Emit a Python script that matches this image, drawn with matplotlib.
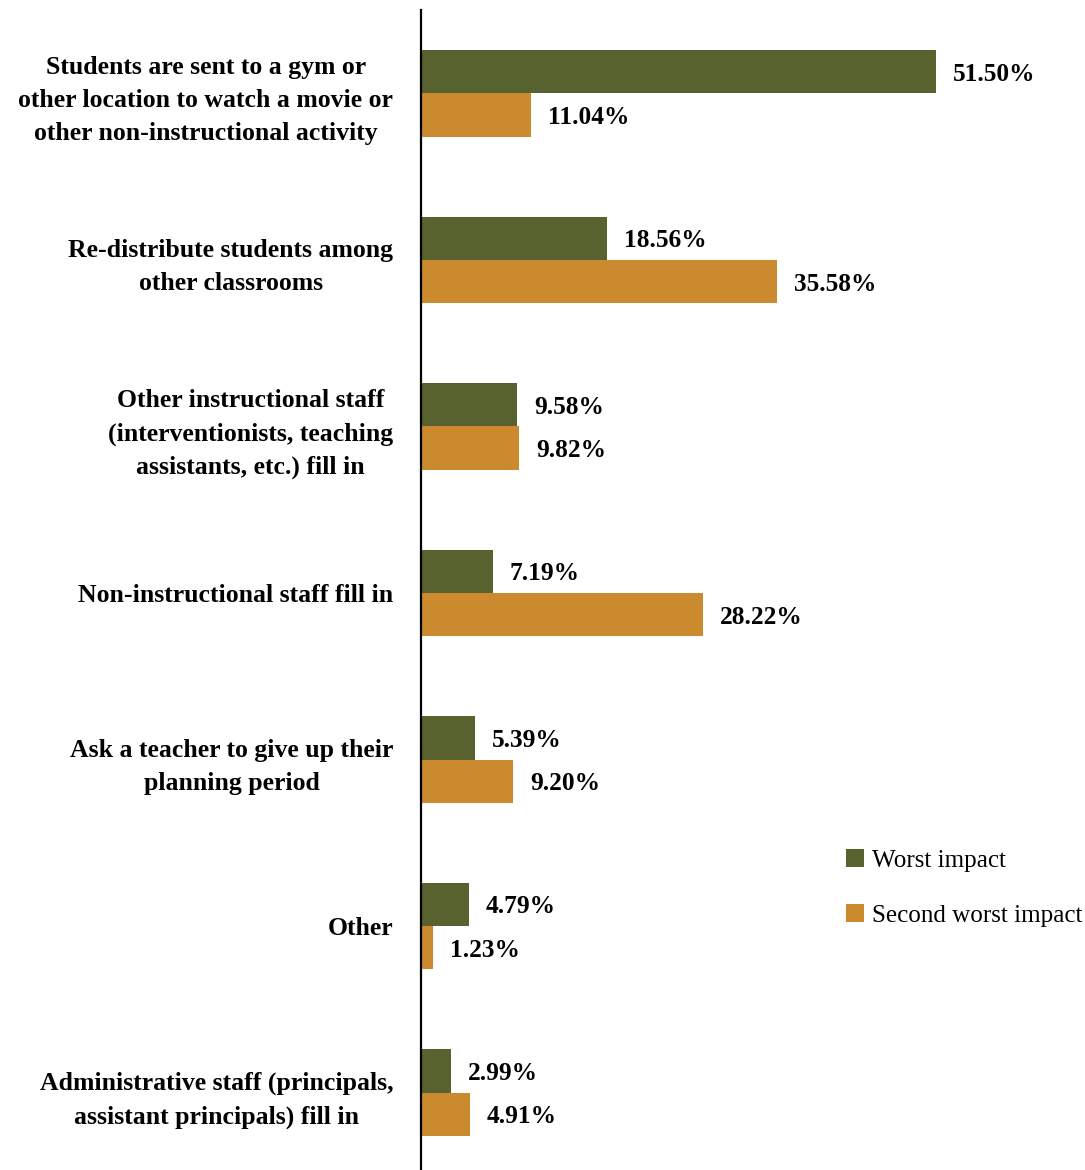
import matplotlib.pyplot as plt
import numpy as np

plt.rcParams['font.family'] = ['Liberation Serif', 'DejaVu Serif']

categories = [
    "Students are sent to a gym or\nother location to watch a movie or\nother non-instructional activity",
    "Re-distribute students among\nother classrooms",
    "Other instructional staff\n(interventionists, teaching\nassistants, etc.) fill in",
    "Non-instructional staff fill in",
    "Ask a teacher to give up their\nplanning period",
    "Other",
    "Administrative staff (principals,\nassistant principals) fill in",
]
worst = [51.50, 18.56, 9.58, 7.19, 5.39, 4.79, 2.99]
second = [11.04, 35.58, 9.82, 28.22, 9.20, 1.23, 4.91]

green = '#58622e'
orange = '#cc8a2e'

fig = plt.figure(figsize=(10.85, 11.7), dpi=100)
ax = fig.add_axes([421 / 1085, -6 / 1170, 664 / 1085, 1166 / 1170])

y = np.arange(len(categories))
h = 0.26
b1 = ax.barh(y - h / 2, worst, height=h, color=green, label='Worst impact')
b2 = ax.barh(y + h / 2, second, height=h, color=orange, label='Second worst impact')

# value labels just past the end of each bar
for rects, vals in ((b1, worst), (b2, second)):
    for rect, v in zip(rects, vals):
        ax.text(v + 1.7, rect.get_y() + rect.get_height() / 2, f"{v:.2f}%",
                va='center_baseline', ha='left', fontsize=18.3, fontweight='bold')

ax.set_xlim(0, 66.4)
ax.set_ylim(len(categories) - 0.5, -0.5)
ax.set_yticks(y)
ax.set_yticklabels(categories, fontsize=18.5, fontweight='bold')
for t in ax.get_yticklabels():
    t.set_multialignment('center')
    t.set_linespacing(1.55)
ax.tick_params(axis='y', length=0, pad=20)
ax.set_xticks([])
for s in ('top', 'right', 'bottom'):
    ax.spines[s].set_visible(False)
ax.spines['left'].set_linewidth(1.6)
ax.spines['left'].set_color('black')

fig.legend(loc='upper left', bbox_to_anchor=(823 / 1085, 1 - 826 / 1170),
           frameon=False, fontsize=18.1, handlelength=0.75, handleheight=0.75,
           handletextpad=0.3, labelspacing=1.28)

fig.savefig('out.png', dpi=100)
